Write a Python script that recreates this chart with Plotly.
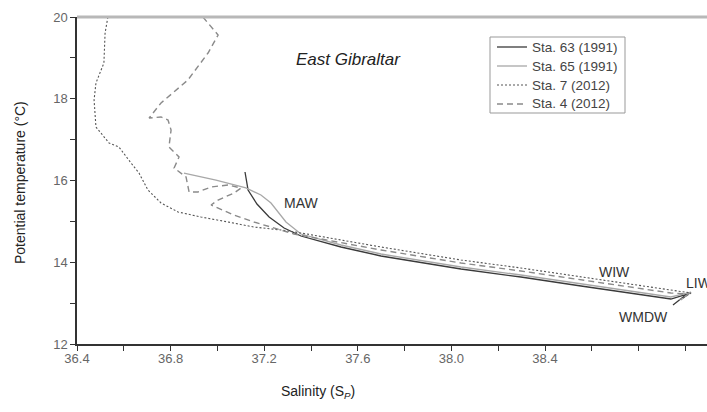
import plotly.graph_objects as go

# ---- data (salinity S_P, potential temperature degC) ----
sta63_S = [37.118, 37.126, 37.131, 37.169, 37.221, 37.285, 37.357, 37.528, 37.699, 38.041, 38.297, 38.554, 38.768, 38.938, 39.007, 38.947]
sta63_T = [16.208, 15.963, 15.768, 15.425, 15.107, 14.838, 14.642, 14.373, 14.153, 13.835, 13.639, 13.419, 13.248, 13.101, 13.223, 12.954]

sta65_S = [36.857, 36.994, 37.122, 37.186, 37.229, 37.259, 37.293, 37.357, 37.528, 37.699, 38.041, 38.297, 38.554, 38.768, 38.938, 39.024, 38.981]
sta65_T = [16.183, 16.012, 15.817, 15.645, 15.450, 15.229, 14.985, 14.691, 14.422, 14.202, 13.884, 13.688, 13.468, 13.297, 13.150, 13.272, 13.076]

sta7_S = [36.532, 36.520, 36.515, 36.481, 36.473, 36.481, 36.537, 36.579, 36.631, 36.665, 36.703, 36.759, 36.832, 36.930, 37.045, 37.156, 37.272, 37.357, 37.699, 38.041, 38.297, 38.554, 38.768, 38.938, 39.024, 38.990]
sta7_T = [20.0, 19.609, 18.875, 18.385, 17.969, 17.309, 16.917, 16.820, 16.428, 16.183, 15.768, 15.450, 15.229, 15.107, 14.985, 14.862, 14.789, 14.716, 14.373, 14.055, 13.859, 13.639, 13.468, 13.321, 13.248, 13.125]

sta4_S = [36.938, 37.003, 36.960, 36.874, 36.759, 36.708, 36.759, 36.789, 36.802, 36.793, 36.836, 36.815, 36.866, 36.879, 36.917, 36.973, 37.045, 37.101, 37.071, 37.003, 36.973, 37.003, 37.071, 37.156, 37.242, 37.327, 37.699, 38.041, 38.297, 38.554, 38.768, 38.938, 39.015, 38.973]
sta4_T = [20.0, 19.560, 19.119, 18.459, 17.896, 17.529, 17.554, 17.480, 17.235, 16.820, 16.575, 16.306, 16.086, 15.719, 15.719, 15.841, 15.890, 15.817, 15.694, 15.523, 15.401, 15.327, 15.156, 14.985, 14.838, 14.692, 14.300, 13.982, 13.786, 13.566, 13.394, 13.248, 13.223, 13.076]

series_names = ["Sta. 63 (1991)", "Sta. 65 (1991)", "Sta. 7 (2012)", "Sta. 4 (2012)"]
x_ticks = [36.4, 36.8, 37.2, 37.6, 38.0, 38.4]
x_tick_labels = ["36.4", "36.8", "37.2", "37.6", "38.0", "38.4"]
y_ticks = [12, 14, 16, 18, 20]

water_labels = ["MAW", "WIW", "LIW", "WMDW"]
water_S = [37.357, 38.695, 38.994, 38.823]
water_T = [15.45, 13.76, 13.49, 12.66]

FONT = "Liberation Sans, Arial, sans-serif"

W, H = 707, 412
L, R, T_, B = 77, 0, 17, 68
pw = W - L - R
ph = H - T_ - B
xmax = 36.4 + pw / 234.0


def px(xp):
    return (xp - L) / pw


def py(yp):
    return (H - B - yp) / ph


fig = go.Figure()
styles = [
    dict(color="#3a3a3a", width=1.3, dash="solid"),
    dict(color="#a8a8a8", width=1.3, dash="solid"),
    dict(color="#555555", width=1.1, dash="2px,2px"),
    dict(color="#8a8a8a", width=1.4, dash="6px,4px"),
]
for name, S, T, st in zip(series_names,
                          [sta63_S, sta65_S, sta7_S, sta4_S],
                          [sta63_T, sta65_T, sta7_T, sta4_T], styles):
    fig.add_trace(go.Scatter(x=S, y=T, mode="lines", name=name, line=st, showlegend=False))

fig.update_layout(
    width=W, height=H,
    margin=dict(l=L, r=R, t=T_, b=B, pad=0),
    paper_bgcolor="white", plot_bgcolor="white",
    font=dict(family=FONT, color="#555555", size=13),
    showlegend=False,
    xaxis=dict(
        range=[36.4, xmax], showgrid=False, zeroline=False,
        showline=True, linecolor="#333333", linewidth=1.5,
        tickmode="array", tickvals=x_ticks, ticktext=x_tick_labels,
        ticks="outside", ticklen=5, tickcolor="#333333", tickwidth=1,
        tickfont=dict(family=FONT, size=13, color="#666666"),
        minor=dict(dtick=0.2, tick0=36.4, ticks="outside", ticklen=5, tickcolor="#333333", tickwidth=1),
    ),
    yaxis=dict(
        range=[12, 20], showgrid=False, zeroline=False,
        showline=True, linecolor="#333333", linewidth=1.5,
        tickmode="array", tickvals=y_ticks,
        ticks="outside", ticklen=5, tickcolor="#333333", tickwidth=1,
        tickfont=dict(family=FONT, size=13, color="#666666"),
        minor=dict(dtick=1, tick0=12, ticks="outside", ticklen=5, tickcolor="#333333", tickwidth=1),
    ),
)
try:
    fig.update_xaxes(ticklabelstandoff=-3)
except Exception:
    pass

# top border line (light gray)
fig.add_shape(type="line", xref="paper", yref="paper", x0=0, x1=1, y0=1, y1=1,
              line=dict(color="#b8b8b8", width=3), layer="above")

# legend box drawn from the trace styles
fig.add_shape(type="rect", xref="paper", yref="paper",
              x0=px(490), x1=px(625), y0=py(113), y1=py(37),
              line=dict(color="#999999", width=1), fillcolor="white", layer="above")
for i, (name, st) in enumerate(zip(series_names, styles)):
    yy = py(47 + 19 * i)
    fig.add_shape(type="line", xref="paper", yref="paper", x0=px(497), x1=px(527), y0=yy, y1=yy,
                  line=st, layer="above")
    fig.add_annotation(text=name, xref="paper", yref="paper", x=px(530), y=yy,
                       xanchor="left", yanchor="middle", showarrow=False,
                       font=dict(family=FONT, size=13.5, color="#444444"))

# axis titles
fig.add_annotation(text="Salinity (S<sub><i>P</i></sub>)", xref="paper", yref="paper",
                   x=px(318), y=py(392), xanchor="center", yanchor="middle",
                   showarrow=False, font=dict(family=FONT, size=14, color="#222222"))
fig.add_annotation(text="Potential temperature (°C)", xref="paper", yref="paper",
                   x=px(20), y=py(183), xanchor="center", yanchor="middle", textangle=-90,
                   showarrow=False, font=dict(family=FONT, size=14, color="#222222"))
fig.add_annotation(text="<i>East Gibraltar</i>", x=37.562, y=18.95, xref="x", yref="y",
                   showarrow=False, font=dict(family=FONT, size=17, color="#222222"))

for lab, sx, ty in zip(water_labels, water_S, water_T):
    fig.add_annotation(text=lab, x=sx, y=ty, xref="x", yref="y", showarrow=False,
                       xanchor="left" if lab == "LIW" else "center",
                       font=dict(family=FONT, size=14, color="#333333"))

fig.write_html("out.html")
